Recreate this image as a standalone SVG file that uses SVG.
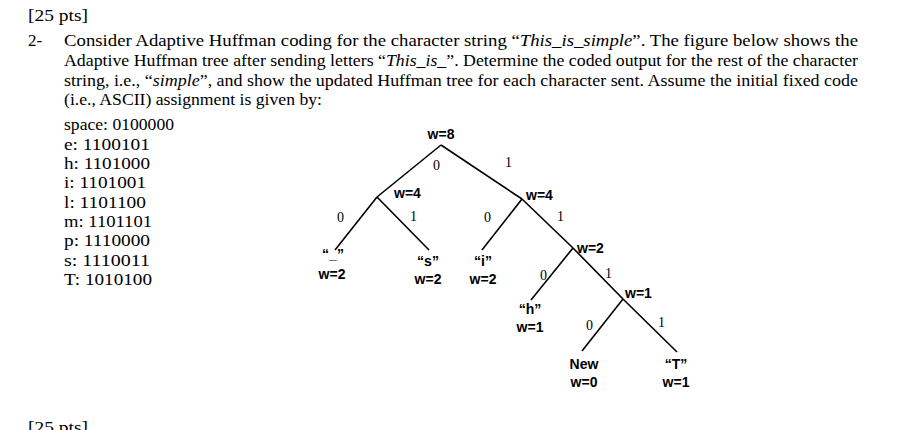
<svg xmlns="http://www.w3.org/2000/svg" width="898" height="430" viewBox="0 0 898 430">
<style>
.t{font-family:"Liberation Serif",serif;font-size:17px;fill:#000}
.n{font-family:"Liberation Sans",sans-serif;font-size:14px;font-weight:bold;fill:#000}
.e{font-family:"Liberation Serif",serif;font-size:14px;fill:#000}
.c line{stroke:#000;stroke-width:1.6}
</style>
<rect width="898" height="430" fill="#fff"/>
<g id="question">
<text class="t" x="28" y="21" textLength="60" lengthAdjust="spacingAndGlyphs">[25 pts]</text>
<text class="t" x="28" y="46">2-</text>
<text class="t" x="64" y="46" textLength="794" lengthAdjust="spacingAndGlyphs">Consider Adaptive Huffman coding for the character string “<tspan font-style="italic">This_is_simple</tspan>”.  The figure below shows the</text>
<text class="t" x="64" y="66" textLength="794" lengthAdjust="spacingAndGlyphs">Adaptive Huffman tree after sending letters “<tspan font-style="italic">This_is_</tspan>”.  Determine the coded output for the rest of the character</text>
<text class="t" x="64" y="86" textLength="794" lengthAdjust="spacingAndGlyphs">string, i.e., “<tspan font-style="italic">simple</tspan>”, and show the updated Huffman tree for each character sent.  Assume the initial fixed code</text>
<text class="t" x="64" y="105" textLength="258" lengthAdjust="spacingAndGlyphs">(i.e., ASCII) assignment is given by:</text>
<text class="t" x="64" y="130" textLength="110" lengthAdjust="spacingAndGlyphs">space: 0100000</text>
<text class="t" x="64" y="150" textLength="86" lengthAdjust="spacingAndGlyphs">e:  1100101</text>
<text class="t" x="64" y="169" textLength="86" lengthAdjust="spacingAndGlyphs">h:  1101000</text>
<text class="t" x="64" y="188" textLength="82" lengthAdjust="spacingAndGlyphs">i:  1101001</text>
<text class="t" x="64" y="208" textLength="82" lengthAdjust="spacingAndGlyphs">l:  1101100</text>
<text class="t" x="64" y="227" textLength="88" lengthAdjust="spacingAndGlyphs">m: 1101101</text>
<text class="t" x="64" y="246" textLength="86" lengthAdjust="spacingAndGlyphs">p:  1110000</text>
<text class="t" x="64" y="266" textLength="86" lengthAdjust="spacingAndGlyphs">s:  1110011</text>
<text class="t" x="64" y="285" textLength="88" lengthAdjust="spacingAndGlyphs">T:  1010100</text>
<text class="t" x="28" y="433" textLength="60" lengthAdjust="spacingAndGlyphs">[25 pts]</text>
</g>
<g id="connectors" class="c">
<line x1="441" y1="145" x2="377" y2="197"/>
<line x1="441" y1="145" x2="522" y2="199"/>
<line x1="377" y1="197" x2="335" y2="250"/>
<line x1="377" y1="197" x2="429" y2="250"/>
<line x1="522" y1="199" x2="482" y2="250"/>
<line x1="522" y1="199" x2="573" y2="248"/>
<line x1="573" y1="248" x2="531" y2="300"/>
<line x1="573" y1="248" x2="623" y2="299"/>
<line x1="623" y1="299" x2="582" y2="351"/>
<line x1="623" y1="299" x2="677" y2="352"/>
</g>
<g id="edge-labels">
<text class="e" x="433" y="170">0</text>
<text class="e" x="505" y="167">1</text>
<text class="e" x="337" y="222">0</text>
<text class="e" x="410" y="221">1</text>
<text class="e" x="484" y="222">0</text>
<text class="e" x="557" y="221">1</text>
<text class="e" x="540" y="280">0</text>
<text class="e" x="605" y="278">1</text>
<text class="e" x="586" y="330">0</text>
<text class="e" x="658" y="327">1</text>
</g>
<g id="root"><text class="n" x="441" y="139" text-anchor="middle">w=8</text></g>
<g id="n4l"><text class="n" x="394" y="198">w=4</text></g>
<g id="n4r"><text class="n" x="526" y="200">w=4</text></g>
<g id="n2"><text class="n" x="577" y="253">w=2</text></g>
<g id="n1"><text class="n" x="625" y="298">w=1</text></g>
<g id="leaf-space"><text class="n" x="333" y="259" text-anchor="middle">“_”</text><text class="n" x="332" y="279" text-anchor="middle">w=2</text></g>
<g id="leaf-s"><text class="n" x="428" y="266" text-anchor="middle">“s”</text><text class="n" x="428" y="284" text-anchor="middle">w=2</text></g>
<g id="leaf-i"><text class="n" x="483" y="266" text-anchor="middle">“i”</text><text class="n" x="483" y="284" text-anchor="middle">w=2</text></g>
<g id="leaf-h"><text class="n" x="530" y="314" text-anchor="middle">“h”</text><text class="n" x="530" y="332" text-anchor="middle">w=1</text></g>
<g id="leaf-new"><text class="n" x="584" y="369" text-anchor="middle">New</text><text class="n" x="584" y="387" text-anchor="middle">w=0</text></g>
<g id="leaf-T"><text class="n" x="676" y="369" text-anchor="middle">“T”</text><text class="n" x="676" y="387" text-anchor="middle">w=1</text></g>
</svg>
